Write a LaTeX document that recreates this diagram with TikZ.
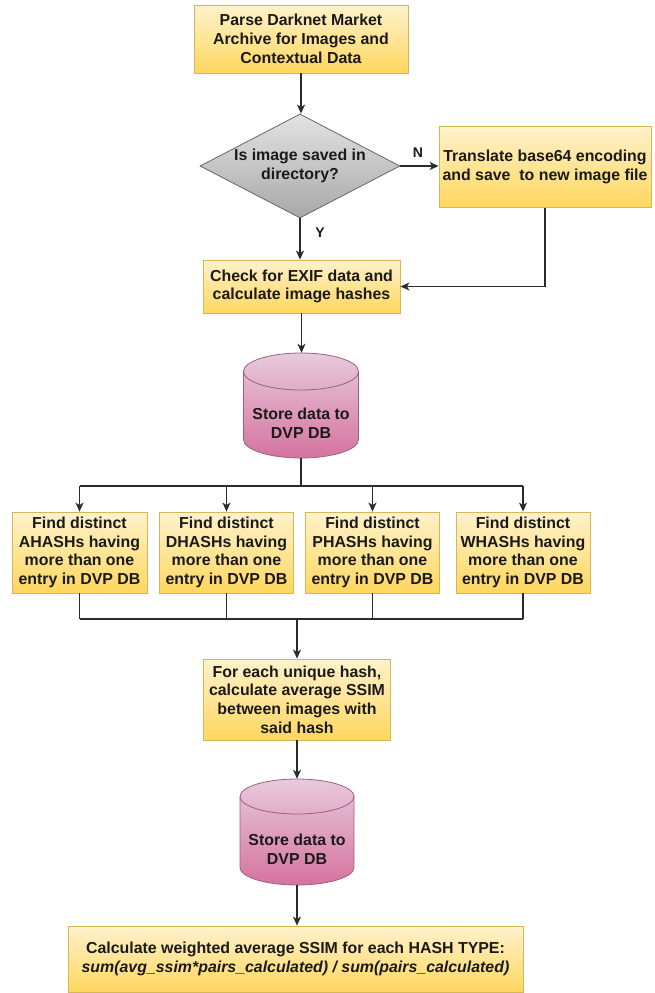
\documentclass[tikz,border=0pt]{standalone}
\usepackage{fontspec}
\setmainfont{Liberation Sans}
\usetikzlibrary{shapes.geometric,arrows.meta}
\definecolor{yelTop}{HTML}{FFF2CC}
\definecolor{yelBot}{HTML}{FFD75E}
\definecolor{yelLine}{HTML}{D6B656}
\definecolor{pinkTop}{HTML}{E8CADC}
\definecolor{pinkBot}{HTML}{D5739D}
\definecolor{pinkLine}{HTML}{996185}
\definecolor{grayTop}{HTML}{E3E3E3}
\definecolor{grayBot}{HTML}{A8A8A8}
\definecolor{grayLine}{HTML}{666666}
\definecolor{lineC}{HTML}{2B2B2B}
\definecolor{txtC}{HTML}{1A1A1A}
\newcommand\drawdbcyl[5]{%
  \path[dbfill] ({#1-#3},{#2-#4+#5}) -- ({#1-#3},{#2+#4-#5})
    arc[start angle=180,end angle=360,x radius=#3pt,y radius=#5pt]
    -- ({#1+#3},{#2-#4+#5})
    arc[start angle=0,end angle=180,x radius=#3pt,y radius=#5pt] -- cycle;
  \draw[dbline] ({#1-#3},{#2-#4+#5})
    arc[start angle=180,end angle=360,x radius=#3pt,y radius=#5pt];
}
\begin{document}
\begin{tikzpicture}[x=1pt,y=-1pt,
  every node/.style={font=\bfseries\fontsize{15.9}{18.7}\selectfont, text=txtC, align=center, inner sep=0pt},
  procbox/.style={rectangle, draw=yelLine, top color=yelTop, bottom color=yelBot, line width=0.8pt},
  decbox/.style={diamond, draw=grayLine, top color=grayTop, bottom color=grayBot, line width=0.8pt},
  dbfill/.style={draw=pinkLine, top color=pinkTop, bottom color=pinkBot, line width=0.8pt},
  dbline/.style={draw=pinkLine, line width=0.8pt},
  anchorbox/.style={rectangle, draw=none, fill=none},
  arr/.style={draw=lineC, line width=1.4pt, -{Stealth[length=9pt,width=8pt,inset=2.5pt]}},
  ln/.style={draw=lineC, line width=1.4pt},
  lbl/.style={font=\bfseries\fontsize{14}{16}\selectfont}
]
\useasboundingbox (0,0) rectangle (655,993);

% top process
\node[procbox, minimum width=214pt, minimum height=68pt] (parse) at (301,39)
  {Parse Darknet Market\\Archive for Images and\\Contextual Data};

% decision
\node[decbox, minimum width=200pt, minimum height=104pt] (dec) at (300,166) {};
\node (dectext) at (300,166) {Is image saved in\\directory?};

% translate
\node[procbox, minimum width=212pt, minimum height=81pt] (trans) at (545,167)
  {Translate base64 encoding\\and save\ \ to new image file};

% check exif
\node[procbox, minimum width=197pt, minimum height=53pt] (chk) at (301.5,286.5)
  {Check for EXIF data and\\calculate image hashes};

% database 1
\drawdbcyl{301}{405.5}{57.5}{52.5}{18.5}
\node[anchorbox, minimum width=115pt, minimum height=105pt] (db1) at (301,405.5) {};
\node (db1t) at (301,423) {Store data to\\DVP DB};

% four hash boxes
\node[procbox, minimum width=135pt, minimum height=81pt] (f1) at (79.5,552.5)
  {Find distinct\\AHASHs having\\more than one\\entry in DVP DB};
\node[procbox, minimum width=134pt, minimum height=81pt] (f2) at (226.5,552.5)
  {Find distinct\\DHASHs having\\more than one\\entry in DVP DB};
\node[procbox, minimum width=134pt, minimum height=81pt] (f3) at (372.5,552.5)
  {Find distinct\\PHASHs having\\more than one\\entry in DVP DB};
\node[procbox, minimum width=134pt, minimum height=81pt] (f4) at (523,552.5)
  {Find distinct\\WHASHs having\\more than one\\entry in DVP DB};

% ssim box
\node[procbox, minimum width=187pt, minimum height=81pt] (ssim) at (297,699.5)
  {For each unique hash,\\calculate average SSIM\\between images with\\said hash};

% database 2
\drawdbcyl{297}{832}{57}{53}{17.5}
\node[anchorbox, minimum width=114pt, minimum height=106pt] (db2) at (297,832) {};
\node (db2t) at (297,849.5) {Store data to\\DVP DB};

% final box
\node[procbox, minimum width=455pt, minimum height=66pt] (fin) at (295.5,959)
  {Calculate weighted average SSIM for each HASH TYPE:\\
   \itshape sum(avg\_ssim*pairs\_calculated) / sum(pairs\_calculated)};

% connectors
\draw[arr] (parse.south) -- (parse.south |- dec.north);
\draw[arr] (dec.east) -- (dec.east -| trans.west);
\node[lbl] (nlab) at (418,153) {N};
\draw[arr] (dec.south) -- (dec.south |- chk.north);
\node[lbl] (ylab) at (320,233) {Y};
\draw[arr] (trans.south) |- (chk.east);
\draw[arr] (chk.south) -- (chk.south |- db1.north);

\coordinate (bt) at (301,486);
\draw[ln] (db1.south) -- (bt);
\draw[ln] (bt -| f1.north) -- (bt -| f4.north);
\foreach \i in {1,2,3,4} {\draw[arr] (bt -| f\i.north) -- (f\i.north);}

\coordinate (bb) at (297,619);
\foreach \i in {1,2,3,4} {\draw[ln] (f\i.south) -- (f\i.south |- bb);}
\draw[ln] (bb -| f1.south) -- (bb -| f4.south);
\draw[arr] (bb) -- (bb |- ssim.north);

\draw[arr] (ssim.south) -- (ssim.south |- db2.north);
\draw[arr] (db2.south) -- (db2.south |- fin.north);
\end{tikzpicture}
\end{document}
